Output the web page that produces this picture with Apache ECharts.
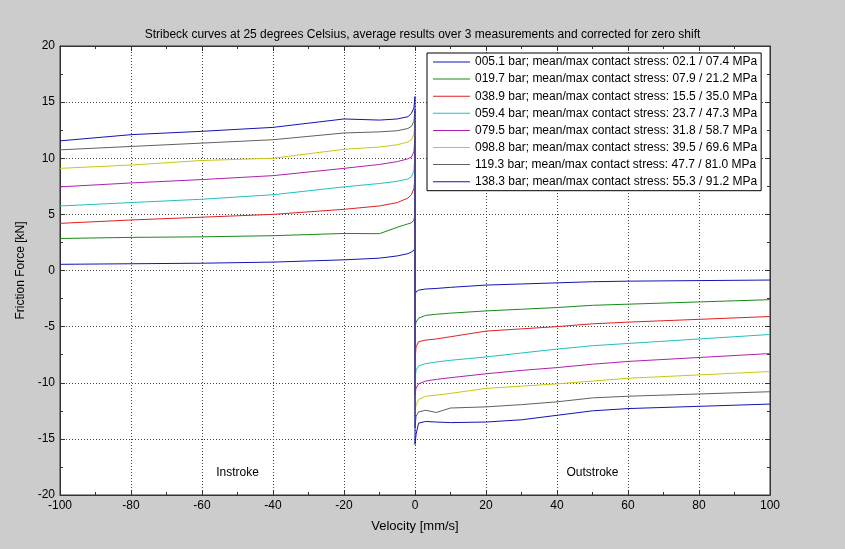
<!DOCTYPE html>
<html>
<head>
<meta charset="utf-8">
<script src="https://cdn.jsdelivr.net/npm/echarts@6/dist/echarts.min.js"></script>
<style>
html,body{margin:0;padding:0;background:#cccccc;}
#main{width:845px;height:549px;}
</style>
</head>
<body>
<div id="main"></div>
<script>
// Velocity sample points (mm/s); two points at 0 form the jump from instroke to outstroke
var velocity = [-100,-80,-60,-40,-20,-10,-5,-2,-1,-0.3,0,0,0.3,1,3,6,10,20,30,40,50,60,80,100];

var seriesNames = [
  "005.1 bar; mean/max contact stress: 02.1 / 07.4 MPa",
  "019.7 bar; mean/max contact stress: 07.9 / 21.2 MPa",
  "038.9 bar; mean/max contact stress: 15.5 / 35.0 MPa",
  "059.4 bar; mean/max contact stress: 23.7 / 47.3 MPa",
  "079.5 bar; mean/max contact stress: 31.8 / 58.7 MPa",
  "098.8 bar; mean/max contact stress: 39.5 / 69.6 MPa",
  "119.3 bar; mean/max contact stress: 47.7 / 81.0 MPa",
  "138.3 bar; mean/max contact stress: 55.3 / 91.2 MPa"
];

// Friction force (kN) per pressure level
var f005 = [0.55,0.6,0.65,0.75,0.95,1.1,1.3,1.5,1.65,1.8,2.0,-2.2,-1.9,-1.75,-1.65,-1.6,-1.5,-1.3,-1.2,-1.1,-1.0,-0.95,-0.9,-0.85];
var f019 = [2.85,2.95,3.0,3.1,3.3,3.28,3.85,4.15,4.25,4.5,5.1,-5.0,-4.6,-4.25,-4.0,-3.9,-3.8,-3.6,-3.45,-3.3,-3.1,-3.0,-2.8,-2.6];
var f038 = [4.2,4.5,4.75,5.0,5.45,5.75,6.05,6.45,6.75,7.3,8.3,-8.0,-6.8,-6.35,-6.2,-6.1,-5.9,-5.4,-5.2,-5.0,-4.75,-4.6,-4.35,-4.1];
var f059 = [5.75,6.05,6.35,6.75,7.45,7.75,7.95,8.15,8.35,8.9,10.3,-9.6,-8.9,-8.5,-8.3,-8.15,-8.0,-7.7,-7.35,-7.0,-6.7,-6.5,-6.1,-5.7];
var f079 = [7.45,7.8,8.1,8.45,9.1,9.45,9.7,9.95,10.1,10.6,12.0,-11.0,-10.5,-10.1,-9.85,-9.7,-9.55,-9.2,-8.9,-8.65,-8.35,-8.1,-7.75,-7.4];
var f098 = [9.1,9.4,9.8,10.0,10.8,11.0,11.2,11.45,11.65,12.2,13.2,-12.5,-12.0,-11.5,-11.2,-11.1,-10.95,-10.5,-10.3,-10.1,-9.85,-9.6,-9.3,-9.0];
var f119 = [10.75,11.05,11.35,11.65,12.25,12.35,12.45,12.65,12.85,13.3,14.3,-14.0,-13.0,-12.6,-12.45,-12.65,-12.25,-12.15,-11.95,-11.7,-11.35,-11.2,-11.0,-10.8];
var f138 = [11.55,12.1,12.4,12.75,13.5,13.4,13.5,13.7,14.0,14.5,15.5,-15.5,-14.6,-13.6,-13.45,-13.5,-13.55,-13.5,-13.3,-12.9,-12.5,-12.3,-12.1,-11.9];

var forces = [f005,f019,f038,f059,f079,f098,f119,f138];
var colors = ['#1414b4','#1a8a1a','#e02020','#20c0c0','#b020b0','#c8c810','#606060','#1414b4'];

var xTicks = [-100,-80,-60,-40,-20,0,20,40,60,80,100];
var yTicks = [-20,-15,-10,-5,0,5,10,15,20];

var FONT = '"Liberation Sans", Arial, sans-serif';

var chart = echarts.init(document.getElementById('main'));

var series = forces.map(function(arr, i){
  return {
    name: seriesNames[i],
    type: 'line',
    xAxisIndex: 0,
    yAxisIndex: 0,
    showSymbol: false,
    symbol: 'none',
    animation: false,
    lineStyle: {width: 1, color: colors[i]},
    itemStyle: {color: colors[i]},
    data: velocity.map(function(v, j){ return [v, arr[j]]; })
  };
});

var dotted = {show: true, lineStyle: {color: '#444', width: 1, type: [1, 2]}};

chart.setOption({
  backgroundColor: '#cccccc',
  animation: false,
  color: colors,
  title: {
    text: 'Stribeck curves at 25 degrees Celsius, average results over 3 measurements and corrected for zero shift',
    left: 'center',
    top: 24,
    textStyle: {fontFamily: FONT, fontSize: 12, fontWeight: 'normal', color: '#000'}
  },
  legend: {
    orient: 'vertical',
    left: 427,
    top: 53,
    backgroundColor: '#fff',
    borderColor: '#000',
    borderWidth: 1,
    borderRadius: 0,
    padding: [3, 4, 3, 6],
    itemGap: 5.1,
    itemWidth: 37,
    itemHeight: 1,
    icon: 'rect',
    data: seriesNames,
    textStyle: {fontFamily: FONT, fontSize: 12, color: '#000', lineHeight: 12}
  },
  grid: {
    left: 60, right: 75, top: 46, bottom: 54,
    show: true, backgroundColor: '#fff', borderColor: '#333', borderWidth: 1
  },
  xAxis: [{
    type: 'value', min: -100, max: 100, interval: 20,
    name: 'Velocity [mm/s]', nameLocation: 'middle', nameGap: 25,
    nameTextStyle: {fontFamily: FONT, fontSize: 13, color: '#000'},
    axisLine: {show: true, onZero: false, lineStyle: {color: '#333'}},
    axisTick: {show: true, inside: true, length: 5, lineStyle: {color: '#333'}},
    minorTick: {show: true, splitNumber: 2, length: 3, lineStyle: {color: '#333'}},
    axisLabel: {fontFamily: FONT, fontSize: 12, color: '#000', margin: 5},
    splitLine: dotted
  }, {
    type: 'value', min: -100, max: 100, interval: 20, position: 'top',
    axisLine: {show: true, onZero: false, lineStyle: {color: '#333'}},
    axisTick: {show: true, inside: true, length: 5, lineStyle: {color: '#333'}},
    minorTick: {show: true, splitNumber: 2, length: 3, lineStyle: {color: '#333'}},
    axisLabel: {show: false},
    splitLine: {show: false}
  }],
  yAxis: [{
    type: 'value', min: -20, max: 20, interval: 5,
    name: 'Friction Force [kN]', nameLocation: 'middle', nameGap: 32,
    nameTextStyle: {fontFamily: FONT, fontSize: 12, color: '#000'},
    axisLine: {show: true, onZero: false, lineStyle: {color: '#333'}},
    axisTick: {show: true, inside: true, length: 5, lineStyle: {color: '#333'}},
    minorTick: {show: true, splitNumber: 2, length: 3, lineStyle: {color: '#333'}},
    axisLabel: {fontFamily: FONT, fontSize: 12, color: '#000', margin: 5},
    splitLine: dotted
  }, {
    type: 'value', min: -20, max: 20, interval: 5, position: 'right',
    axisLine: {show: true, onZero: false, lineStyle: {color: '#333'}},
    axisTick: {show: true, inside: true, length: 5, lineStyle: {color: '#333'}},
    minorTick: {show: true, splitNumber: 2, length: 3, lineStyle: {color: '#333'}},
    axisLabel: {show: false},
    splitLine: {show: false}
  }],
  series: series
});

// "Instroke" / "Outstroke" annotations positioned through the axes
var notes = [{text: 'Instroke', x: -50, y: -18}, {text: 'Outstroke', x: 50, y: -18}];
chart.setOption({
  graphic: notes.map(function(n){
    var p = chart.convertToPixel({xAxisIndex: 0, yAxisIndex: 0}, [n.x, n.y]);
    return {
      type: 'text', x: p[0], y: p[1],
      style: {text: n.text, fill: '#000', font: '12px ' + FONT, textAlign: 'center', textVerticalAlign: 'middle'}
    };
  })
});
</script>
</body>
</html>
